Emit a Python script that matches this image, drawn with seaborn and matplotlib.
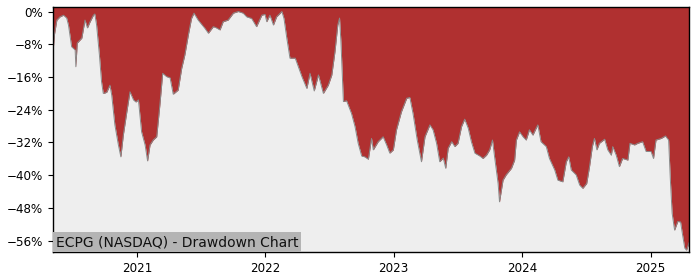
import matplotlib
matplotlib.use("Agg")
import matplotlib.pyplot as plt
import matplotlib.dates as mdates
from matplotlib.ticker import FuncFormatter, FixedLocator
import seaborn as sns
import pandas as pd

title = "ECPG (NASDAQ) - Drawdown Chart"

dates = [
    "2020-05-07", "2020-05-11", "2020-05-18", "2020-05-27", "2020-06-06", "2020-06-15",
    "2020-06-20", "2020-06-29", "2020-07-09", "2020-07-11", "2020-07-15", "2020-07-28",
    "2020-08-01", "2020-08-06", "2020-08-13", "2020-08-20", "2020-08-30", "2020-09-03",
    "2020-09-08", "2020-09-16", "2020-09-22", "2020-09-27", "2020-10-02", "2020-10-07",
    "2020-10-16", "2020-10-21", "2020-10-30", "2020-11-09", "2020-11-16", "2020-11-23",
    "2020-12-03", "2020-12-12", "2020-12-22", "2020-12-29", "2021-01-05", "2021-01-14",
    "2021-01-24", "2021-01-31", "2021-02-07", "2021-02-16", "2021-02-26", "2021-03-07",
    "2021-03-15", "2021-03-26", "2021-04-05", "2021-04-14", "2021-04-28", "2021-05-08",
    "2021-05-17", "2021-05-27", "2021-06-05", "2021-06-12", "2021-06-24", "2021-07-13",
    "2021-07-23", "2021-08-06", "2021-08-15", "2021-08-25", "2021-09-03", "2021-09-17",
    "2021-10-02", "2021-10-16", "2021-10-30", "2021-11-09", "2021-11-23", "2021-12-07",
    "2021-12-22", "2021-12-31", "2022-01-05", "2022-01-14", "2022-01-24", "2022-02-02",
    "2022-02-17", "2022-02-23", "2022-03-03", "2022-03-12", "2022-03-27", "2022-04-05",
    "2022-04-15", "2022-04-29", "2022-05-08", "2022-05-20", "2022-06-01", "2022-06-15",
    "2022-06-29", "2022-07-09", "2022-07-18", "2022-07-26", "2022-07-31", "2022-08-04",
    "2022-08-11", "2022-08-20", "2022-09-03", "2022-09-13", "2022-09-22", "2022-10-02",
    "2022-10-11", "2022-10-21", "2022-10-30", "2022-11-04", "2022-11-18", "2022-12-02",
    "2022-12-12", "2022-12-21", "2022-12-31", "2023-01-09", "2023-01-23", "2023-02-07",
    "2023-02-16", "2023-02-25", "2023-03-09", "2023-03-21", "2023-03-31", "2023-04-14",
    "2023-04-23", "2023-05-03", "2023-05-12", "2023-05-22", "2023-05-29", "2023-06-05",
    "2023-06-15", "2023-06-24", "2023-07-03", "2023-07-13", "2023-07-22", "2023-08-01",
    "2023-08-10", "2023-08-20", "2023-09-03", "2023-09-12", "2023-09-22", "2023-10-01",
    "2023-10-09", "2023-10-15", "2023-10-25", "2023-10-29", "2023-11-08", "2023-11-17",
    "2023-12-02", "2023-12-11", "2023-12-16", "2023-12-25", "2024-01-04", "2024-01-13",
    "2024-01-22", "2024-02-01", "2024-02-08", "2024-02-15", "2024-02-24", "2024-03-10",
    "2024-03-19", "2024-04-03", "2024-04-12", "2024-04-26", "2024-05-06", "2024-05-13",
    "2024-05-20", "2024-06-03", "2024-06-13", "2024-06-22", "2024-07-03", "2024-07-11",
    "2024-07-19", "2024-07-25", "2024-08-01", "2024-08-08", "2024-08-23", "2024-09-01",
    "2024-09-11", "2024-09-15", "2024-09-25", "2024-10-04", "2024-10-13", "2024-10-28",
    "2024-11-03", "2024-11-16", "2024-11-25", "2024-12-09", "2024-12-19", "2025-01-02",
    "2025-01-09", "2025-01-16", "2025-01-31", "2025-02-12", "2025-02-21", "2025-02-26",
    "2025-03-03", "2025-03-10", "2025-03-19", "2025-03-27", "2025-04-01", "2025-04-08",
    "2025-04-13", "2025-04-20",
]

drawdown = [
    -10.1, -5.7, -2.1, -1.3, -0.9, -1.6,
    -3.3, -8.6, -9.4, -13.5, -7.7, -6.5,
    -4.5, -2.1, -4.0, -2.6, -0.9, -0.6,
    -3.3, -10.6, -17.1, -20.0, -19.9, -19.7,
    -18.0, -20.4, -27.7, -32.6, -35.5, -30.2,
    -24.5, -19.6, -21.6, -22.1, -21.6, -29.4,
    -32.6, -36.5, -32.6, -31.4, -30.6, -22.8,
    -15.1, -15.9, -16.2, -20.2, -19.2, -13.9,
    -10.6, -5.7, -1.7, -0.4, -2.1, -4.1,
    -5.3, -3.7, -4.0, -4.5, -2.5, -2.1,
    -0.4, 0.0, -0.4, -1.3, -1.7, -3.7,
    -0.9, -0.7, -2.5, -0.9, -3.3, -1.3,
    0.0, -1.7, -6.5, -11.4, -11.4, -13.5,
    -15.9, -18.8, -15.1, -19.4, -15.5, -20.0,
    -18.0, -15.5, -9.8, -3.3, -1.6, -7.4,
    -22.0, -21.8, -24.9, -28.1, -32.2, -35.3,
    -35.5, -36.1, -31.0, -33.8, -31.8, -30.6,
    -32.6, -34.6, -33.8, -28.9, -24.5, -21.2,
    -21.0, -24.9, -31.4, -36.7, -30.6, -27.7,
    -28.9, -32.2, -36.7, -35.8, -38.3, -33.4,
    -31.8, -33.0, -32.2, -28.1, -26.3, -28.5,
    -31.8, -34.6, -35.3, -35.9, -35.1, -33.8,
    -31.4, -35.5, -42.0, -46.5, -41.2, -39.9,
    -38.3, -36.3, -31.4, -29.4, -30.6, -31.4,
    -28.9, -30.2, -28.9, -27.7, -31.8, -33.0,
    -35.9, -38.7, -41.2, -41.6, -36.7, -35.5,
    -38.7, -39.9, -42.4, -43.2, -42.0, -37.9,
    -33.0, -31.0, -33.8, -32.2, -31.2, -33.8,
    -35.1, -33.0, -35.1, -37.9, -35.9, -36.3,
    -32.2, -32.6, -32.2, -31.8, -34.2, -34.2,
    -35.9, -31.4, -31.0, -30.4, -31.4, -41.2,
    -49.3, -53.4, -51.3, -51.4, -54.2, -57.8,
    -58.3, -56.5,
]

y_ticks = [0, -8, -16, -24, -32, -40, -48, -56]
y_range = (-58.75, 1.1)

df = pd.DataFrame({"date": pd.to_datetime(dates), "dd": drawdown})

fig = plt.figure(figsize=(7, 2.8), dpi=100)
ax = fig.add_axes([0.0757, 0.1, 0.9086, 0.875])
ax.set_facecolor("#eeeeee")

ax.fill_between(df["date"], df["dd"], y_range[1], color="#b03030", linewidth=0)
sns.lineplot(data=df, x="date", y="dd", ax=ax, color="#8a8a8a", linewidth=0.7)

ax.set_xlim(df["date"].iloc[0], df["date"].iloc[-1])
ax.set_ylim(*y_range)
ax.yaxis.set_major_locator(FixedLocator(y_ticks))
ax.yaxis.set_major_formatter(FuncFormatter(lambda v, p: f"{v:.0f}%".replace("-", "\u2212")))
ax.xaxis.set_major_locator(mdates.YearLocator())
ax.xaxis.set_major_formatter(mdates.DateFormatter("%Y"))
ax.tick_params(axis="both", labelsize=8.6, length=3.5, width=0.8)
ax.set_xlabel("")
ax.set_ylabel("")
for s in ax.spines.values():
    s.set_color("black")
    s.set_linewidth(1.0)

ax.text(0.004, 0.012, title, transform=ax.transAxes, fontsize=10, color="#111111",
        ha="left", va="bottom",
        bbox=dict(facecolor="#b4b4b4", edgecolor="none", pad=2.0))

fig.savefig("out.png", dpi=100)
